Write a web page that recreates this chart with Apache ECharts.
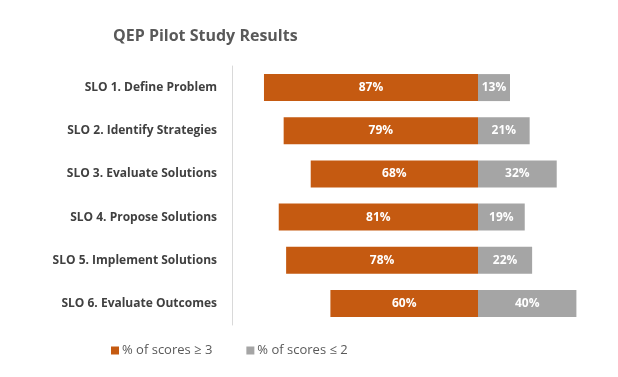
<!DOCTYPE html>
<html>
<head>
<meta charset="utf-8">
<script src="https://cdn.jsdelivr.net/npm/echarts@6/dist/echarts.min.js"></script>
<style>
  html, body { margin: 0; padding: 0; background: #fff; }
  #main { width: 618px; height: 377px; }
</style>
</head>
<body>
<div id="main"></div>
<script>
var categories = [
  'SLO 1. Define Problem',
  'SLO 2. Identify Strategies',
  'SLO 3. Evaluate Solutions',
  'SLO 4. Propose Solutions',
  'SLO 5. Implement Solutions',
  'SLO 6. Evaluate Outcomes'
];
var highScores = [87, 79, 68, 81, 78, 60];
var lowScores = [13, 21, 32, 19, 22, 40];
var seriesNames = ['% of scores \u2265 3', '% of scores \u2264 2'];

var font = '"Open Sans", "Liberation Sans", sans-serif';

var dom = document.getElementById('main');
var myChart = echarts.init(dom, null, { renderer: 'canvas' });

var option = {
  animation: false,
  title: {
    text: 'QEP Pilot Study Results',
    left: 108,
    top: 23,
    textStyle: { color: '#595959', fontSize: 16, fontWeight: 'bold', fontFamily: font }
  },
  legend: {
    bottom: 15,
    left: 106,
    itemGap: 34,
    itemWidth: 8,
    itemHeight: 8,
    icon: 'rect',
    textStyle: { color: '#595959', fontSize: 13, fontFamily: font, padding: [0, 0, 0, -2] },
    data: seriesNames
  },
  grid: { left: 232, top: 66, width: 369, height: 259 },
  xAxis: {
    type: 'value',
    min: -100,
    max: 50,
    show: false
  },
  yAxis: {
    type: 'category',
    inverse: true,
    data: categories,
    axisLine: { show: true, onZero: false, lineStyle: { color: '#D9D9D9' } },
    axisTick: { show: false },
    axisLabel: {
      margin: 15,
      color: '#404040',
      fontSize: 12,
      fontWeight: 'bold',
      fontFamily: font
    }
  },
  series: [
    {
      name: seriesNames[0],
      type: 'bar',
      stack: 'total',
      barWidth: 27,
      itemStyle: { color: '#C55A11' },
      label: {
        show: true,
        position: 'inside',
        color: '#fff',
        fontWeight: 'bold',
        fontSize: 12,
        fontFamily: font,
        formatter: function (p) { return Math.abs(p.value) + '%'; }
      },
      data: highScores.map(function (v) { return -v; })
    },
    {
      name: seriesNames[1],
      type: 'bar',
      stack: 'total',
      barWidth: 27,
      itemStyle: { color: '#A5A5A5' },
      label: {
        show: true,
        position: 'inside',
        color: '#fff',
        fontWeight: 'bold',
        fontSize: 12,
        fontFamily: font,
        formatter: function (p) { return p.value + '%'; }
      },
      data: lowScores
    }
  ]
};

myChart.setOption(option);
</script>
</body>
</html>
